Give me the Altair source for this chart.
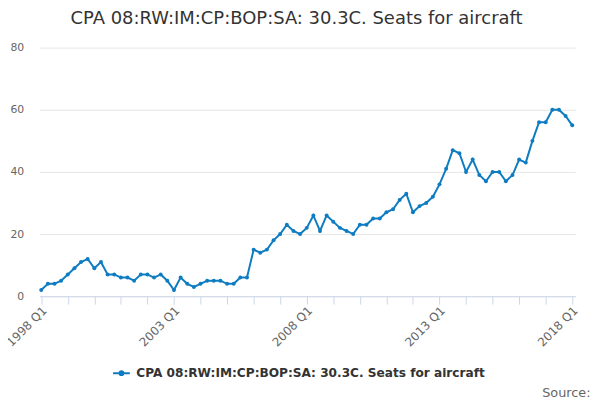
import altair as alt
import pandas as pd

series_name = "CPA 08:RW:IM:CP:BOP:SA: 30.3C. Seats for aircraft"
start_year = 1998
values = [
    2, 4, 4, 5,
    7, 9, 11, 12,
    9, 11, 7, 7,
    6, 6, 5, 7,
    7, 6, 7, 5,
    2, 6, 4, 3,
    4, 5, 5, 5,
    4, 4, 6, 6,
    15, 14, 15, 18,
    20, 23, 21, 20,
    22, 26, 21, 26,
    24, 22, 21, 20,
    23, 23, 25, 25,
    27, 28, 31, 33,
    27, 29, 30, 32,
    36, 41, 47, 46,
    40, 44, 39, 37,
    40, 40, 37, 39,
    44, 43, 50, 56,
    56, 60, 60, 58,
    55,
]
tick_labels = ["1998 Q1", "2003 Q1", "2008 Q1", "2013 Q1", "2018 Q1"]
y_ticks = [0, 20, 40, 60, 80]

periods = [f"{start_year + i // 4} Q{i % 4 + 1}" for i in range(len(values))]
df = pd.DataFrame({
    "idx": list(range(len(values))),
    "period": periods,
    "value": values,
    "series": series_name,
})

label_expr = "".join(
    f"datum.value == {i * 20} ? '{lab}' : " for i, lab in enumerate(tick_labels)
) + "''"

color = "#0e7cc1"
font = "DejaVu Sans"

x_enc = alt.X(
    "idx:Q",
    scale=alt.Scale(domain=[-0.25, 80.45], nice=False, zero=False),
    axis=alt.Axis(
        values=list(range(0, 81, 4)),
        labelExpr=label_expr,
        labelAngle=315,
        labelAlign="right",
        labelBaseline="middle",
        labelPadding=4,
        labelOffset=3,
        labelFontSize=12,
        labelColor="#666666",
        labelFont=font,
        tickColor="#ccd6eb",
        tickSize=8,
        domainColor="#ccd6eb",
        grid=False,
        labelOverlap=False,
        labelBound=False,
        labelFlush=False,
        title="Source:",
        titleX=558,
        titleY=102,
        titleAlign="right",
        titleBaseline="alphabetic",
        titleFontWeight="normal",
        titleFontSize=13,
        titleColor="#666666",
        titleFont=font,
    ),
)
y_enc = alt.Y(
    "value:Q",
    scale=alt.Scale(domain=[0, 80], nice=False),
    axis=alt.Axis(
        values=y_ticks,
        domain=False,
        ticks=False,
        gridColor="#e6e6e6",
        labelColor="#666666",
        labelFontSize=11,
        labelFont=font,
        labelPadding=16,
        title=None,
    ),
)
color_enc = alt.Color(
    "series:N",
    scale=alt.Scale(domain=[series_name], range=[color]),
    legend=alt.Legend(
        title=None,
        orient="none",
        legendX=73,
        legendY=320,
        symbolType="M-1,0L1,0M-0.22,0A0.22,0.22,0,1,1,0.22,0A0.22,0.22,0,1,1,-0.22,0Z",
        symbolSize=290,
        symbolStrokeWidth=2,
        symbolFillColor=color,
        symbolStrokeColor=color,
        labelFontSize=12.3,
        labelFontWeight="bold",
        labelColor="#333333",
        labelFont=font,
        labelOffset=5,
        labelLimit=600,
        padding=0,
    ),
)

chart = (
    alt.Chart(df)
    .mark_line(
        strokeWidth=2,
        point=alt.OverlayMarkDef(filled=True, size=16, opacity=1, color=color),
    )
    .encode(x=x_enc, y=y_enc, color=color_enc, tooltip=["period:N", "value:Q"])
    .properties(
        width=543,
        height=252,
        padding={"left": 32, "top": 37.5, "right": 17, "bottom": 102},
        autosize=alt.AutoSizeParams(type="none"),
        title=alt.TitleParams(
            series_name,
            fontSize=18.2,
            fontWeight="normal",
            font=font,
            color="#333333",
            anchor="middle",
            frame="group",
            offset=14,
            dx=-11,
            limit=600,
        ),
    )
    .configure_view(stroke=None)
    .configure_axis(labelOverlap=False)
)

chart.save("out.html", embed_options={"renderer": "svg", "actions": False})
